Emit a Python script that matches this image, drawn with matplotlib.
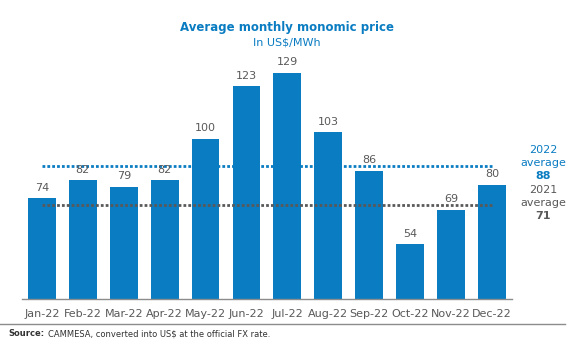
import matplotlib
matplotlib.use("Agg")
from matplotlib import pyplot as plt
import numpy as np

months = ["Jan-22", "Feb-22", "Mar-22", "Apr-22", "May-22", "Jun-22",
          "Jul-22", "Aug-22", "Sep-22", "Oct-22", "Nov-22", "Dec-22"]
prices = [74, 82, 79, 82, 100, 123, 129, 103, 86, 54, 69, 80]
avg_2022 = 88
avg_2021 = 71

BLUE = "#0a7cc2"
GRAY = "#595959"


def main():
    fig = plt.figure(figsize=(5.74, 3.55), dpi=100)
    ax = fig.add_axes([0.0375, 0.158, 0.855, 0.676])

    x = np.arange(len(months))
    ax.bar(x, prices, width=0.68, color=BLUE, zorder=2)
    for xi, v in zip(x, prices):
        ax.annotate(str(v), (xi, v), xytext=(0, 4), textcoords="offset points",
                    ha="center", va="bottom", fontsize=8, color=GRAY, zorder=4)

    # averages
    ax.plot([0, 11], [avg_2022, avg_2022], linestyle=(0, (1, 0.75)), lw=2,
            color=BLUE, zorder=3)
    ax.plot([0, 11], [avg_2021, avg_2021], linestyle=(0, (1, 0.75)), lw=2,
            color=GRAY, zorder=3)

    ax.set_xlim(-0.5, 11.5)
    ax.set_ylim(30, 135)
    ax.set_xticks(x)
    ax.set_xticklabels(months, fontsize=8, color=GRAY)
    ax.tick_params(axis="x", length=0, pad=7)
    ax.set_yticks([])
    for s in ["top", "right", "left"]:
        ax.spines[s].set_visible(False)
    ax.spines["bottom"].set_color("#8c8c8c")
    ax.spines["bottom"].set_linewidth(1)

    fig.text(0.5, 0.922, "Average monthly monomic price", ha="center",
             va="center", fontsize=8.5, fontweight="bold", color=BLUE)
    fig.text(0.5, 0.88, "In US$/MWh", ha="center", va="center",
             fontsize=8, color=BLUE)

    # right-side labels, one line each (y in pixels from top)
    side = [("2022", 150, BLUE, "normal"), ("average", 163, BLUE, "normal"),
            ("88", 176, BLUE, "bold"), ("2021", 190, GRAY, "normal"),
            ("average", 203, GRAY, "normal"), ("71", 216, GRAY, "bold")]
    for txt, ypx, col, w in side:
        fig.text(0.946, 1 - ypx / 355, txt, ha="center", va="center",
                 fontsize=8, color=col, fontweight=w)

    fig.add_artist(plt.Line2D([0.0, 0.985], [0.087, 0.087], color="#8c8c8c",
                              lw=1, transform=fig.transFigure))
    t = fig.text(0.014, 0.06, "Source:", ha="left", va="center",
                 fontsize=6, fontweight="bold", color="#333333")
    fig.canvas.draw()
    bb = t.get_window_extent().transformed(fig.transFigure.inverted())
    fig.text(bb.x1 + 0.006, 0.06,
             "CAMMESA, converted into US$ at the official FX rate.",
             ha="left", va="center", fontsize=6, color="#333333")

    fig.savefig("out.png", dpi=100)


if __name__ == '__main__':
    main()
